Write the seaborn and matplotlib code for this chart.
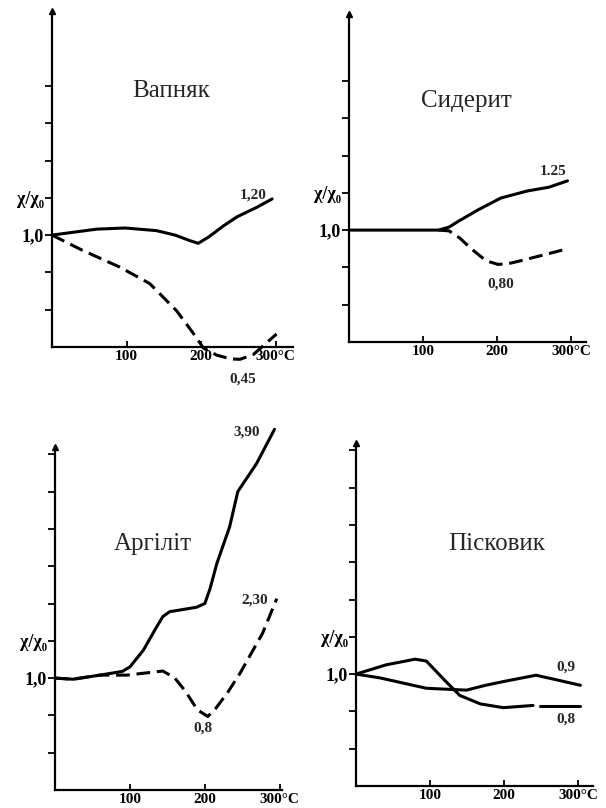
import numpy as np
import pandas as pd
import matplotlib
matplotlib.use("Agg")
import matplotlib.pyplot as plt
import seaborn as sns

sns.set_theme(style="white")
plt.rcParams['font.family'] = ['Liberation Serif', 'DejaVu Serif']

# ---------------- data (relative χ/χ0 scale) ----------------
# Вапняк
vap_solid_t = [0, 30, 60, 98, 140, 165, 185, 196, 210, 230, 248, 275, 295]
vap_solid_y = [1.0, 1.008, 1.016, 1.019, 1.012, 1.0, 0.985, 0.978, 0.995, 1.025, 1.049, 1.075, 1.097]
vap_dash_t = [0, 40, 91, 131, 167, 190, 203, 221, 240, 252, 270, 301]
vap_dash_y = [1.0, 0.96, 0.914, 0.87, 0.797, 0.735, 0.697, 0.678, 0.668, 0.667, 0.68, 0.735]

# Сидерит
sid_solid_t = [0, 60, 121, 135, 148, 175, 205, 241, 270, 295]
sid_solid_y = [1.0, 1.0, 1.0, 1.008, 1.024, 1.055, 1.086, 1.105, 1.115, 1.132]
sid_dash_t = [121, 135, 150, 165, 185, 201, 215, 228, 260, 295]
sid_dash_y = [1.0, 0.998, 0.978, 0.95, 0.918, 0.908, 0.91, 0.916, 0.932, 0.95]

# Аргіліт
arg_solid_t = [0, 24, 60, 90, 100, 118, 135, 144, 153, 189, 200, 207, 216, 233, 244, 269, 293]
arg_solid_y = [1.0, 0.997, 1.008, 1.018, 1.03, 1.075, 1.135, 1.165, 1.178, 1.19, 1.20, 1.24, 1.307, 1.405, 1.50, 1.575, 1.667]
arg_dash_t = [0, 24, 60, 96, 144, 160, 174, 190, 204, 215, 230, 247, 277, 296]
arg_dash_y = [1.0, 0.997, 1.008, 1.008, 1.019, 1.0, 0.965, 0.915, 0.897, 0.92, 0.96, 1.013, 1.12, 1.213]

# Пісковик
pis_a_t = [0, 41, 80, 95, 118, 140, 168, 199, 239, 249, 303]
pis_a_y = [1.0, 1.025, 1.04, 1.035, 0.987, 0.943, 0.92, 0.91, 0.916, 0.915, 0.915]
pis_a_seg = [0, 0, 0, 0, 0, 0, 0, 0, 0, 1, 1]
pis_b_t = [0, 32, 95, 149, 175, 199, 243, 270, 303]
pis_b_y = [1.0, 0.99, 0.962, 0.957, 0.97, 0.98, 0.997, 0.985, 0.97]

titles = ["Вапняк", "Сидерит", "Аргіліт", "Пісковик"]
x_ticks = [100, 200, 300]
x_ticklabels = ["100", "200", "300°C"]
y_label_ticks = [1.0, 1.1]
y_label_texts = ["1,0", "χ/χ₀"]

end_labels = {
    0: [("1,20", 270, 1.108), ("0,45", 255, 0.615)],
    1: [("1.25", 275, 1.158), ("0,80", 205, 0.855)],
    2: [("3,90", 256, 1.66), ("2,30", 267, 1.21), ("0,8", 198, 0.865)],
    3: [("0,9", 283, 1.02), ("0,8", 283, 0.88)],
}

# ---------------- figure ----------------
W, H = 606, 808
fig = plt.figure(figsize=(W / 100, H / 100), dpi=100)
PX = 373.0  # pixels per 1.0 unit in y


def make_ax(x0, xend_px, ybase, ytop, xmax):
    left = x0 / W
    width = (xend_px - x0) / W
    height = (ytop - 0.7) * PX / H
    bottom = (H - ybase) / H
    ax = fig.add_axes([left, bottom, width, height])
    ax.set_xlim(0, xmax)
    ax.set_ylim(0.7, ytop)
    return ax


# (y-axis x px, x-axis end px, baseline px, ylim top, xlim max)
specs = [
    (52, 293, 347, 1.60, 323),
    (349, 586, 342, 1.58, 320),
    (55, 282, 790, 1.62, 303),
    (356, 593, 786, 1.62, 320),
]
axes = [make_ax(*s) for s in specs]

lw = 2.2
dash = (0, (4.5, 2.2))

def draw(ax, t, y, dashed=False, units=None):
    df = pd.DataFrame({"t": t, "y": y})
    kw = dict(color="black", lw=lw, ax=ax, legend=False, clip_on=False)
    if dashed:
        kw["linestyle"] = dash
    if units is not None:
        df["u"] = units
        sns.lineplot(data=df, x="t", y="y", units="u", estimator=None, **kw)
    else:
        sns.lineplot(data=df, x="t", y="y", estimator=None, **kw)

draw(axes[0], vap_solid_t, vap_solid_y)
draw(axes[0], vap_dash_t, vap_dash_y, dashed=True)
draw(axes[1], sid_solid_t, sid_solid_y)
draw(axes[1], sid_dash_t, sid_dash_y, dashed=True)
draw(axes[2], arg_solid_t, arg_solid_y)
draw(axes[2], arg_dash_t, arg_dash_y, dashed=True)
draw(axes[3], pis_a_t, pis_a_y, units=pis_a_seg)
draw(axes[3], pis_b_t, pis_b_y)

title_pos = [(160, 1.385), (158, 1.345), (130, 1.36), (190, 1.35)]

for i, ax in enumerate(axes):
    ytop = ax.get_ylim()[1]
    for s in ["top", "right"]:
        ax.spines[s].set_visible(False)
    for s in ["left", "bottom"]:
        ax.spines[s].set_linewidth(1.6)
        ax.spines[s].set_color("black")
    ax.set_xlabel("")
    ax.set_ylabel("")
    ax.set_xticks(x_ticks)
    ax.set_xticklabels(x_ticklabels, fontsize=11, fontweight="bold")
    top_tick = 1.4 if i < 2 else 1.6
    yt = list(np.round(np.arange(0.8, top_tick + 0.001, 0.1), 2))
    ax.set_yticks(yt)
    ax.set_yticklabels([
        y_label_texts[y_label_ticks.index(v)] if v in y_label_ticks else "" for v in yt
    ], fontsize=13, fontweight="bold")
    ax.tick_params(axis="y", left=True, direction="out", length=5, width=1.3,
                   colors="black", pad=1)
    ax.tick_params(axis="x", bottom=True, direction="in", length=4, width=1.3,
                   colors="black", pad=2)
    # arrow head on top of y axis
    ax.plot([0], [ytop], marker="^", color="black", markersize=5, clip_on=False)
    ax.set_title("")
    ax.text(title_pos[i][0], title_pos[i][1], titles[i], fontsize=18,
            ha="center", va="center")
    for txt, xx, yy in end_labels[i]:
        ax.text(xx, yy, txt, fontsize=11, fontweight="bold", ha="center", va="center")
    ax.set_facecolor("white")
    ax.grid(False)

fig.savefig("out.png", dpi=100, facecolor="white")
